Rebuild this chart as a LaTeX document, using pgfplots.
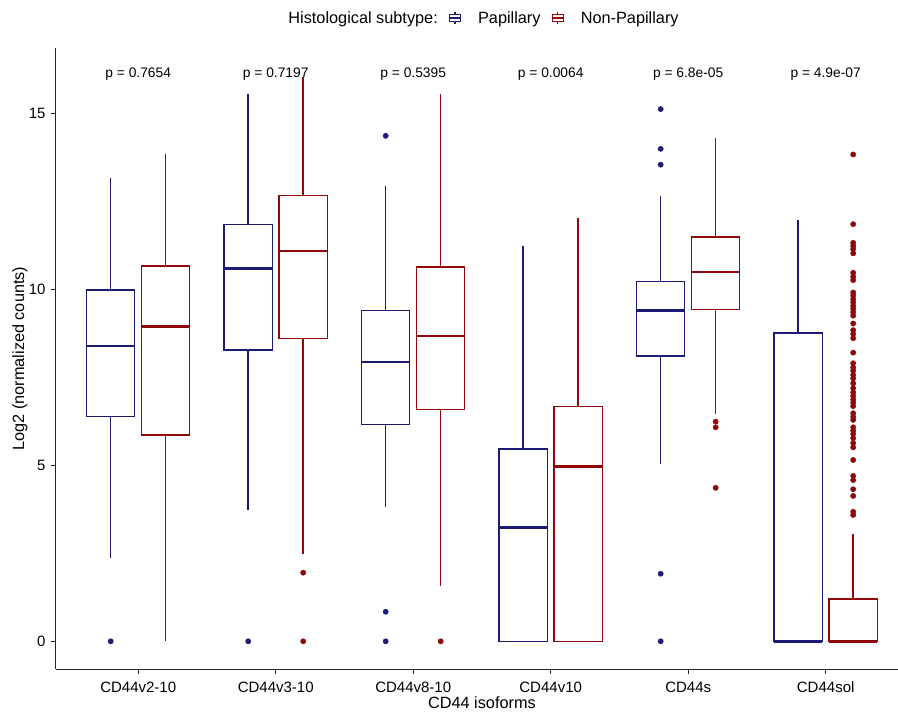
\documentclass[border=0pt]{standalone}
\usepackage{fontspec}
\setmainfont{Liberation Sans}
\usepackage{pgfplots}
\pgfplotsset{compat=1.18}
\usepgfplotslibrary{statistics}

\definecolor{pap}{RGB}{28,28,118}
\definecolor{nonpap}{RGB}{145,8,8}

\pgfplotsset{
  papbox/.style={draw=pap, solid, line width=1.4pt, mark=*, mark size=2.6pt,
    mark options={fill=pap, draw=pap, solid, line width=0.5pt}, forget plot,
    boxplot/every median/.style={line width=2.4pt}},
  npbox/.style={draw=nonpap, solid, line width=1.4pt, mark=*, mark size=2.6pt,
    mark options={fill=nonpap, draw=nonpap, solid, line width=0.5pt}, forget plot,
    boxplot/every median/.style={line width=2.4pt}},
}

\newcommand{\glyph}[1]{%
  \draw[#1, line width=1.2pt, fill=white] (0pt,-3.8pt) rectangle (11pt,3.8pt);
  \draw[#1, line width=1.2pt] (5.5pt,3.8pt) -- (5.5pt,6.3pt)
    (5.5pt,-3.8pt) -- (5.5pt,-6.3pt) (0pt,0pt) -- (11pt,0pt);}

\begin{document}
\begin{tikzpicture}
\path[use as bounding box] (0pt,0pt) rectangle (898pt,715pt);
\begin{axis}[
    at={(55.7pt,45.7pt)}, anchor=south west,
    scale only axis,
    width=842.3pt, height=621.3pt,
    xmin=0.4, xmax=6.526,
    ymin=-0.795, ymax=16.855,
    axis lines=left,
    axis line style={-, line width=1.2pt, black!85},
    tick align=outside,
    major tick length=4.7pt,
    tick style={black!85, line width=1.1pt},
    xtick={1,2,3,4,5,6},
    xticklabels={CD44v2-10,CD44v3-10,CD44v8-10,CD44v10,CD44s,CD44sol},
    ytick={0,5,10,15},
    /pgf/number format/assume math mode=true,
    tick label style={font=\fontsize{15}{18}\selectfont, text=black},
    x tick label style={anchor=base, yshift=-18.7pt},
    y tick label style={anchor=east, xshift=-2pt},
    every axis x label/.style={at={(axis description cs:0.506,-0.053)}, anchor=center},
    every axis y label/.style={at={(axis description cs:-0.0425,0.5)}, rotate=90, anchor=center},
    label style={font=\fontsize{16.3}{19}\selectfont},
    xlabel={CD44 isoforms},
    ylabel={Log2 (normalized counts)},
    boxplot/draw direction=y,
    boxplot/box extend=0.35,
    boxplot/whisker extend=0,
    legend columns=-1,
    legend style={at={(0.4978,1.0483)}, anchor=center, draw=none, fill=none,
      font=\fontsize{16.3}{19}\selectfont, inner sep=0pt,
      nodes={inner sep=0pt},
      /tikz/every odd column/.style={column sep=17pt},
      /tikz/every even column/.style={column sep=11pt}},
    clip=false,
]
\addlegendimage{empty legend}
\addlegendentry{Histological subtype:}
\addlegendimage{legend image code/.code={\glyph{pap}}}
\addlegendentry{Papillary}
\addlegendimage{legend image code/.code={\glyph{nonpap}}}
\addlegendentry{Non-Papillary}

% CD44v2-10
\addplot[papbox, boxplot prepared={draw position=0.8,
  lower whisker=2.36, lower quartile=6.39, median=8.39, upper quartile=9.98, upper whisker=13.15}]
  table[row sep=\\, y index=0] {v\\ 0\\};
\addplot[npbox, boxplot prepared={draw position=1.2,
  lower whisker=0, lower quartile=5.86, median=8.94, upper quartile=10.66, upper whisker=13.83}]
  coordinates {};
% CD44v3-10
\addplot[papbox, boxplot prepared={draw position=1.8,
  lower whisker=3.73, lower quartile=8.28, median=10.59, upper quartile=11.84, upper whisker=15.55}]
  table[row sep=\\, y index=0] {v\\ 0\\};
\addplot[npbox, boxplot prepared={draw position=2.2,
  lower whisker=2.48, lower quartile=8.60, median=11.09, upper quartile=12.66, upper whisker=16.04}]
  table[row sep=\\, y index=0] {v\\ 1.95\\ 0\\};
% CD44v8-10
\addplot[papbox, boxplot prepared={draw position=2.8,
  lower whisker=3.82, lower quartile=6.16, median=7.94, upper quartile=9.39, upper whisker=12.94}]
  table[row sep=\\, y index=0] {v\\ 14.36\\ 0.84\\ 0\\};
\addplot[npbox, boxplot prepared={draw position=3.2,
  lower whisker=1.58, lower quartile=6.58, median=8.67, upper quartile=10.63, upper whisker=15.54}]
  table[row sep=\\, y index=0] {v\\ 0\\};
% CD44v10
\addplot[papbox, boxplot prepared={draw position=3.8,
  lower whisker=0, lower quartile=0, median=3.23, upper quartile=5.46, upper whisker=11.22}]
  coordinates {};
\addplot[npbox, boxplot prepared={draw position=4.2,
  lower whisker=0, lower quartile=0, median=4.97, upper quartile=6.67, upper whisker=12.03}]
  coordinates {};
% CD44s
\addplot[papbox, boxplot prepared={draw position=4.8,
  lower whisker=5.04, lower quartile=8.10, median=9.40, upper quartile=10.22, upper whisker=12.66}]
  table[row sep=\\, y index=0] {v\\ 15.12\\ 13.99\\ 13.54\\ 1.92\\ 0\\};
\addplot[npbox, boxplot prepared={draw position=5.2,
  lower whisker=6.46, lower quartile=9.43, median=10.49, upper quartile=11.48, upper whisker=14.31}]
  table[row sep=\\, y index=0] {v\\ 6.24\\ 6.08\\ 4.36\\};
% CD44sol
\addplot[papbox, boxplot prepared={draw position=5.8,
  lower whisker=0, lower quartile=0, median=0, upper quartile=8.76, upper whisker=11.98}]
  coordinates {};
\addplot[npbox, boxplot prepared={draw position=6.2,
  lower whisker=0, lower quartile=0, median=0, upper quartile=1.20, upper whisker=3.05}]
  table[row sep=\\, y index=0] {v\\ 13.83\\ 11.85\\ 11.32\\ 11.23\\ 11.14\\ 11.02\\ 10.47\\ 10.36\\
  10.26\\ 9.91\\ 9.82\\ 9.72\\ 9.63\\ 9.53\\ 9.44\\ 9.35\\ 9.25\\ 9.03\\ 8.84\\ 8.73\\ 8.61\\
  8.20\\ 7.90\\ 7.78\\ 7.69\\ 7.57\\ 7.47\\ 7.33\\ 7.19\\ 7.07\\ 6.97\\ 6.87\\ 6.78\\ 6.68\\
  6.48\\ 6.38\\ 6.29\\ 6.08\\ 5.98\\ 5.89\\ 5.77\\ 5.63\\ 5.51\\ 5.15\\ 4.70\\ 4.58\\ 4.32\\
  4.13\\ 3.68\\ 3.59\\};

% p-values
\begin{scope}[every node/.style={anchor=base, font=\fontsize{13.8}{16}\selectfont}]
\node at (axis cs:1,16.02) {p = 0.7654};
\node at (axis cs:2,16.02) {p = 0.7197};
\node at (axis cs:3,16.02) {p = 0.5395};
\node at (axis cs:4,16.02) {p = 0.0064};
\node at (axis cs:5,16.02) {p = 6.8e-05};
\node at (axis cs:6,16.02) {p = 4.9e-07};
\end{scope}
\end{axis}
\end{tikzpicture}
\end{document}
